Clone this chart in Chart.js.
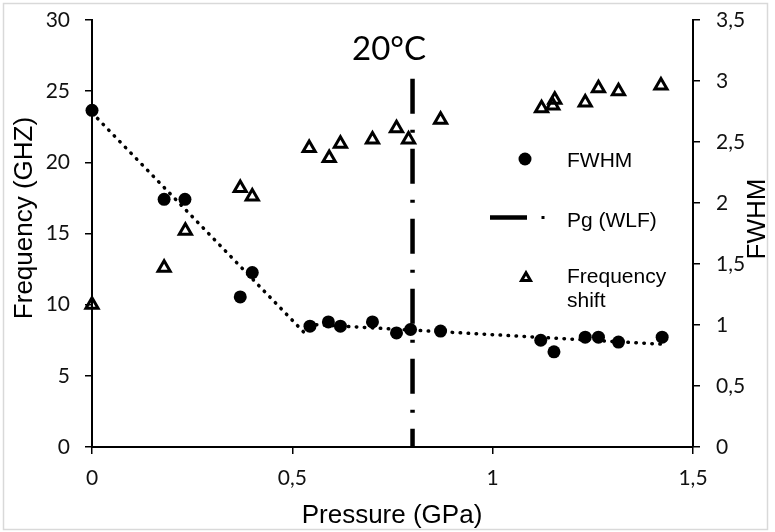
<!DOCTYPE html>
<html>
<head>
<meta charset="utf-8">
<title>FWHM and frequency shift vs pressure</title>
<script src="https://cdn.jsdelivr.net/npm/chart.js@4.4.1/dist/chart.umd.min.js"></script>
<style>
  html, body { margin: 0; padding: 0; background: #fff; }
  #wrap { width: 775px; height: 532px; position: relative; }
</style>
</head>
<body>
<div id="wrap"><canvas id="myChart"></canvas></div>
<script>
// FWHM points (right axis)
var fwhmPressure = [0, 0.18, 0.232, 0.37, 0.40, 0.544, 0.59, 0.62, 0.70, 0.76, 0.795, 0.87, 1.12, 1.153, 1.231, 1.264, 1.314, 1.423];
var fwhmValues   = [2.76, 2.03, 2.03, 1.23, 1.43, 0.99, 1.025, 0.99, 1.025, 0.935, 0.963, 0.95, 0.875, 0.78, 0.90, 0.90, 0.86, 0.90];

// frequency shift points (left axis, GHz)
var shiftPressure = [0, 0.18, 0.233, 0.37, 0.40, 0.542, 0.592, 0.62, 0.70, 0.76, 0.79, 0.87, 1.122, 1.15, 1.155, 1.231, 1.264, 1.314, 1.42];
var shiftValues   = [10.0, 12.6, 15.2, 18.2, 17.6, 21.0, 20.3, 21.3, 21.6, 22.4, 21.6, 23.0, 23.8, 24.0, 24.4, 24.2, 25.2, 25.0, 25.4];

// dotted trend, two linear pieces (right axis)
var trendLowX  = [0, 0.536];
var trendLowY  = [2.74, 0.916];
var trendHighX = [0.54, 1.42];
var trendHighY = [1.006, 0.843];

// Pg (WLF) vertical marker (left axis)
var pgX = [0.8, 0.8];
var pgY = [25.87, 0];

var pressureTicks = [0, 0.5, 1, 1.5];
var freqTicks = [0, 5, 10, 15, 20, 25, 30];
var fwhmTicks = [0, 0.5, 1, 1.5, 2, 2.5, 3, 3.5];

function toPoints(xs, ys) {
    return xs.map(function(x, i) { return {x: x, y: ys[i]}; });
}
function comma(v) {
    return String(v).replace('.', ',');
}
function setTicks(list) {
    return function(scale) {
        scale.ticks = list.map(function(v) { return {value: v}; });
    };
}
// fixed box sizes so the plot area lands where the reference has it
function fixSize(w, h) {
    return function(scale) {
        if (w) scale.width = w;
        if (h) scale.height = h;
        scale.paddingTop = 0;
        scale.paddingBottom = 0;
        scale.paddingLeft = 0;
        scale.paddingRight = 0;
    };
}

var tickFont = {family: 'Lato', size: 21};
var axisGrid = {drawOnChartArea: false, drawTicks: true, tickLength: 7, color: '#000', lineWidth: 1.5};
var axisBorder = {display: true, color: '#000', width: 2};

// frame, titles and legend
var decor = {
    id: 'decor',
    beforeDraw: function(chart) {
        var ctx = chart.ctx;
        ctx.save();
        ctx.fillStyle = '#fff';
        ctx.fillRect(0, 0, chart.width, chart.height);
        ctx.strokeStyle = '#d9d9d9';
        ctx.lineWidth = 1.5;
        ctx.strokeRect(3.5, 3.5, 764, 526);
        ctx.restore();
    },
    afterDraw: function(chart) {
        var ctx = chart.ctx;
        ctx.save();
        ctx.fillStyle = '#000';
        ctx.textBaseline = 'alphabetic';

        ctx.font = '33px Lato';
        ctx.textAlign = 'center';
        ctx.fillText('20°C', 389, 60);

        ctx.font = '26px "Liberation Sans"';
        ctx.fillText('Pressure (GPa)', 392, 523);

        ctx.save();
        ctx.translate(31.7, 218);
        ctx.rotate(-Math.PI / 2);
        ctx.fillText('Frequency (GHZ)', 0, 0);
        ctx.restore();

        ctx.save();
        ctx.translate(765, 219);
        ctx.rotate(-Math.PI / 2);
        ctx.fillText('FWHM', 0, 0);
        ctx.restore();

        // legend
        ctx.beginPath();
        ctx.arc(525, 159, 6.5, 0, Math.PI * 2);
        ctx.fill();

        ctx.strokeStyle = '#000';
        ctx.lineWidth = 4.5;
        ctx.beginPath();
        ctx.moveTo(490, 217.5);
        ctx.lineTo(527, 217.5);
        ctx.stroke();
        ctx.fillRect(541.5, 216, 3, 3);

        var r = 5.2;
        ctx.lineWidth = 3;
        ctx.beginPath();
        ctx.moveTo(526, 278 - r);
        ctx.lineTo(526 + r * 0.866, 278 + r / 2);
        ctx.lineTo(526 - r * 0.866, 278 + r / 2);
        ctx.closePath();
        ctx.stroke();

        ctx.font = '21px "Liberation Sans"';
        ctx.textAlign = 'left';
        ctx.fillText('FWHM', 567, 166.7);
        ctx.fillText('Pg (WLF)', 567, 226.7);
        ctx.fillText('Frequency', 567, 283.3);
        ctx.fillText('shift', 567, 306.7);
        ctx.restore();
    }
};

var ctx = document.getElementById('myChart').getContext('2d');
var myChart = new Chart(ctx, {
    type: 'scatter',
    data: {
        datasets: [
            {
                label: 'FWHM',
                data: toPoints(fwhmPressure, fwhmValues),
                yAxisID: 'y1',
                pointStyle: 'circle',
                pointRadius: 6.5,
                backgroundColor: '#000',
                borderWidth: 0
            },
            {
                label: 'Frequency shift',
                data: toPoints(shiftPressure, shiftValues),
                yAxisID: 'y',
                pointStyle: 'triangle',
                pointRadius: 7,
                backgroundColor: 'rgba(0,0,0,0)',
                borderColor: '#000',
                borderWidth: 3
            },
            {
                label: 'trend low',
                data: toPoints(trendLowX, trendLowY),
                yAxisID: 'y1',
                showLine: true,
                pointRadius: 0,
                borderColor: '#000',
                borderWidth: 3.5,
                borderDash: [0.5, 7.5],
                borderCapStyle: 'round'
            },
            {
                label: 'trend high',
                data: toPoints(trendHighX, trendHighY),
                yAxisID: 'y1',
                showLine: true,
                pointRadius: 0,
                borderColor: '#000',
                borderWidth: 3.5,
                borderDash: [0.5, 7.5],
                borderCapStyle: 'round'
            },
            {
                label: 'Pg (WLF)',
                data: toPoints(pgX, pgY),
                yAxisID: 'y',
                showLine: true,
                pointRadius: 0,
                borderColor: '#000',
                borderWidth: 4.5,
                borderDash: [35, 16, 3, 16],
                borderCapStyle: 'butt'
            }
        ]
    },
    options: {
        responsive: true,
        maintainAspectRatio: false,
        animation: false,
        clip: false,
        layout: {padding: {top: 20, left: 0, right: 0, bottom: 0}},
        plugins: {
            legend: {display: false},
            tooltip: {enabled: false}
        },
        scales: {
            x: {
                type: 'linear',
                min: 0,
                max: 1.5,
                afterBuildTicks: setTicks(pressureTicks),
                afterFit: fixSize(0, 85),
                grid: axisGrid,
                border: axisBorder,
                ticks: {font: tickFont, color: '#111', padding: 12, maxRotation: 0, callback: comma}
            },
            y: {
                type: 'linear',
                position: 'left',
                min: 0,
                max: 30,
                afterBuildTicks: setTicks(freqTicks),
                afterFit: fixSize(92, 0),
                grid: axisGrid,
                border: axisBorder,
                ticks: {font: tickFont, color: '#111', padding: 15}
            },
            y1: {
                type: 'linear',
                position: 'right',
                min: 0,
                max: 3.5,
                afterBuildTicks: setTicks(fwhmTicks),
                afterFit: fixSize(82, 0),
                grid: axisGrid,
                border: axisBorder,
                ticks: {font: tickFont, color: '#111', padding: 16, callback: comma}
            }
        }
    },
    plugins: [decor]
});
</script>
</body>
</html>
